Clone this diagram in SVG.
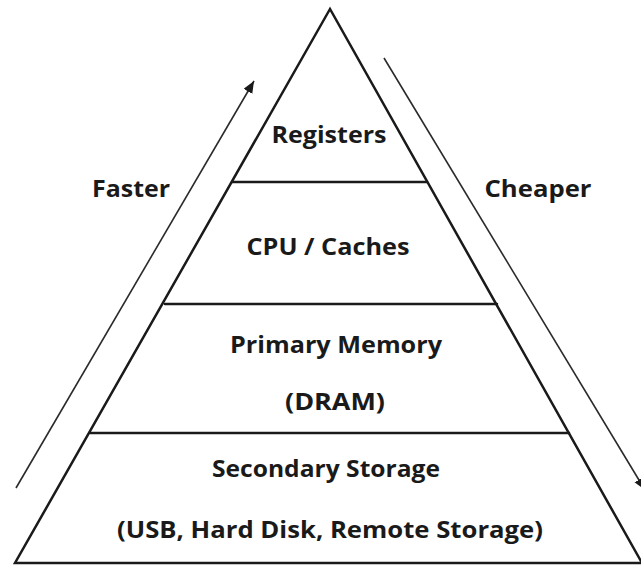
<svg xmlns="http://www.w3.org/2000/svg" width="641" height="565" viewBox="0 0 641 565">
<style>
.edge{fill:none;stroke:#1a1a1a;stroke-width:2.5;stroke-linecap:round;stroke-linejoin:miter}
.arrow{fill:none;stroke:#2a2a2a;stroke-width:1.6}
.lbl{font-family:"Open Sans","Liberation Sans",sans-serif;font-weight:bold;font-size:23px;fill:#1a1a1a;text-anchor:middle}
</style>
<defs>
<marker id="ah" markerUnits="userSpaceOnUse" markerWidth="14" markerHeight="12" refX="12" refY="5" orient="auto">
<path d="M0,0 L12,5 L0,10 z" fill="#1a1a1a"/>
</marker>
</defs>
<rect width="641" height="565" fill="#ffffff"/>
<g id="pyramid">
<path class="edge" d="M330,9 L15,563 L642,563 Z"/>
</g>
<g id="registers">
<text class="lbl" x="329" y="143" textLength="115" lengthAdjust="spacingAndGlyphs">Registers</text>
</g>
<g id="cpu-caches">
<line class="edge" x1="232" y1="182" x2="427" y2="182"/>
<text class="lbl" x="328" y="255" textLength="163" lengthAdjust="spacingAndGlyphs">CPU / Caches</text>
</g>
<g id="primary-memory">
<line class="edge" x1="165" y1="304" x2="497" y2="304"/>
<text class="lbl" x="336" y="353" textLength="212" lengthAdjust="spacingAndGlyphs">Primary Memory</text>
<text class="lbl" x="335" y="410" textLength="100" lengthAdjust="spacingAndGlyphs">(DRAM)</text>
</g>
<g id="secondary-storage">
<line class="edge" x1="90" y1="433" x2="569" y2="433"/>
<text class="lbl" x="326" y="477" textLength="228" lengthAdjust="spacingAndGlyphs">Secondary Storage</text>
<text class="lbl" x="330" y="538" textLength="426" lengthAdjust="spacingAndGlyphs">(USB, Hard Disk, Remote Storage)</text>
</g>
<g id="faster">
<text class="lbl" x="131" y="197" textLength="78" lengthAdjust="spacingAndGlyphs">Faster</text>
</g>
<g id="cheaper">
<text class="lbl" x="538" y="197" textLength="107" lengthAdjust="spacingAndGlyphs">Cheaper</text>
</g>
<g id="connectors">
<line class="arrow" x1="16" y1="488" x2="254" y2="81" marker-end="url(#ah)"/>
<line class="arrow" x1="384" y1="58" x2="645" y2="490" marker-end="url(#ah)"/>
</g>
</svg>
